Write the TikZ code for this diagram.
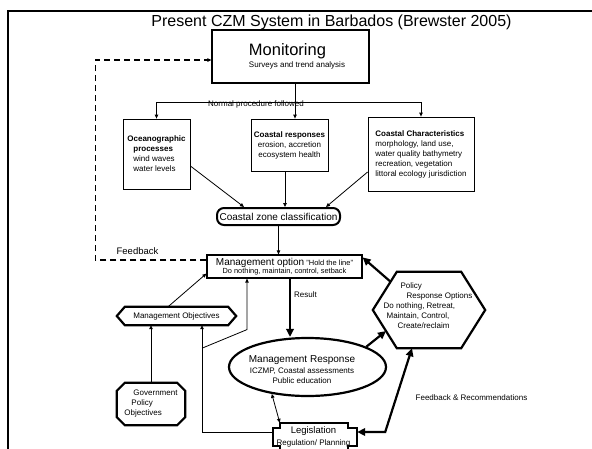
\documentclass[tikz,border=0pt]{standalone}
\usepackage{fontspec}
\setmainfont{Liberation Sans}
\usetikzlibrary{positioning,arrows.meta,calc,shapes.geometric}

\begin{document}
\begin{tikzpicture}[
    x=1pt, y=-1pt,
    >={Triangle[length=4pt,width=3.5pt]},
    every node/.style={inner sep=0pt, font=\fontsize{8}{10}\selectfont},
    infobox/.style={
      rectangle, draw, line width=0.8pt,
      align=left
    },
    heavy/.style={draw, line width=2.2pt},
    link/.style={line width=0.8pt, ->},
    bigarrow/.style={line width=2.2pt, -{Triangle[length=8pt,width=7.5pt]}},
    twoway/.style={line width=2.2pt,
      {Triangle[length=8pt,width=7.5pt]}-{Triangle[length=8pt,width=7.5pt]}},
    feedback/.style={line width=1.4pt, dash pattern=on 6pt off 4pt, ->},
  ]

  \useasboundingbox (0,0) rectangle (592,448);

  % Frame and title
  \draw[line width=2.5pt] (8,460) -- (8,11) -- (600,11);
  \node[font=\fontsize{16}{18}\selectfont, anchor=base] (title) at (331.5,26)
    {Present CZM System in Barbados (Brewster 2005)};

  % Nodes
  \node[infobox, line width=1.2pt, minimum width=157pt, minimum height=53pt]
    (monitor) at (290.5,56.5)
    {\hspace*{13pt}{\fontsize{16.5}{18}\selectfont Monitoring}\\[2pt]
     \hspace*{13pt}Surveys and trend analysis};

  \node[infobox, minimum width=67pt, minimum height=70pt] (ocean) at (156.5,154)
    {\textbf{Oceanographic}\\\hspace*{6pt}\textbf{processes}\\
     \hspace*{6pt}wind waves\\\hspace*{6pt}water levels};
  \node[infobox, align=center, minimum width=77pt, minimum height=52pt]
    (resp) at (289.5,145)
    {\textbf{Coastal responses}\\erosion, accretion\\ecosystem health};
  \node[infobox, minimum width=106pt, minimum height=74pt] (char) at (421,154)
    {\textbf{Coastal Characteristics}\\morphology, land use,\\
     water quality bathymetry\\recreation, vegetation\\
     littoral ecology jurisdiction};
  \node (normal) at (256,104.5) {Normal procedure followed};

  \node[heavy, line width=2pt, rounded corners=7pt, minimum width=123pt,
        minimum height=17pt, font=\fontsize{10}{12}\selectfont]
    (czc) at (278.5,216.5) {Coastal zone classification};

  \node[infobox, line width=1.2pt, align=center, minimum width=155pt,
        minimum height=23pt, font=\fontsize{7.4}{8}\selectfont]
    (mgmtopt) at (284.5,266.5)
    {{\fontsize{10}{10}\selectfont Management option}
     {\fontsize{7.5}{8}\selectfont "Hold the line"}\\
     Do nothing, maintain, control, setback};
  \node[font=\fontsize{9.5}{11}\selectfont] (feedbacktext) at (137.5,251) {Feedback};

  \node[minimum width=119pt, minimum height=18pt] (mobj) at (176.5,316)
    {Management Objectives};
  \draw[heavy] (mobj.west) -- ([xshift=8pt]mobj.north west)
    -- ([xshift=-8pt]mobj.north east) -- (mobj.east)
    -- ([xshift=-8pt]mobj.south east) -- ([xshift=8pt]mobj.south west) -- cycle;

  \node[align=left, minimum width=68pt, minimum height=42pt] (gov) at (151,404)
    {\hspace*{9pt}Government\\\hspace*{7pt}Policy\\Objectives};
  \draw[heavy] ([xshift=8pt]gov.north west) -- ([xshift=-8pt]gov.north east)
    -- ([yshift=-8pt]gov.north east) -- ([yshift=8pt]gov.south east)
    -- ([xshift=-8pt]gov.south east) -- ([xshift=8pt]gov.south west)
    -- ([yshift=8pt]gov.south west) -- ([yshift=-8pt]gov.north west) -- cycle;

  \node[ellipse, heavy, minimum width=157pt, minimum height=58pt]
    (mresp) at (307.5,367) {};
  \node[align=center] (mresptext) at (302,369.5)
    {{\fontsize{10}{10}\selectfont Management Response}\\[1.5pt]
     ICZMP, Coastal assessments\\Public education};

  \node[minimum width=112pt, minimum height=76pt] (policy) at (429,310) {};
  \draw[heavy] (policy.west) coordinate (policy-l)
    -- ([xshift=24pt]policy.north west) coordinate (policy-tl)
    -- ([xshift=-24pt]policy.north east) -- (policy.east)
    -- ([xshift=-24pt]policy.south east)
    -- ([xshift=24pt]policy.south west) coordinate (policy-bl) -- cycle;
  \node[align=left] (policytext) at (428,305.5)
    {\hspace*{17pt}Policy\\\hspace*{23pt}Response Options\\
     Do nothing, Retreat,\\\hspace*{3pt}Maintain, Control,\\
     \hspace*{14pt}Create/reclaim};

  \node[minimum width=68pt, minimum height=29pt] (legis) at (314,437.5) {};
  \draw[heavy] (legis.north west) -- (legis.north east) -- ++(0,5) -- ++(9,0)
    -- ++(0,18) -- ++(-9,0) -- (legis.south east) -- (legis.south west)
    -- ++(0,-6) -- ++(-7,0) -- ++(0,-18) -- ++(7,0) -- cycle;
  \node[align=center] (legistext) at (313.5,437)
    {{\fontsize{9.5}{10}\selectfont Legislation}\\[2.5pt]Regulation/ Planning};

  \node (recommend) at (471.5,398) {Feedback \& Recommendations};

  % Connectors
  \draw[line width=0.8pt] ([xshift=4.5pt]monitor.south) -- ++(0,19) coordinate (fork);
  \draw[link] (fork) -| (ocean.north);
  \draw[link] (fork) -| (char.north);
  \draw[link] (fork) -- (fork |- resp.north);

  \draw[link] ([yshift=-12pt]ocean.east) -- ([xshift=-34.5pt]czc.north);
  \draw[link] ([xshift=-4.5pt]resp.south) -- ([xshift=-4.5pt]resp.south |- czc.north);
  \draw[link] ([yshift=-18pt]char.west) -- ([xshift=47.5pt]czc.north);
  \draw[link] (czc) -- (czc |- mgmtopt.north);

  % Feedback loop
  \draw[feedback] ([yshift=6.5pt]mgmtopt.west) -- ++(-111,0)
    |- ([yshift=-3.5pt]monitor.west);

  % Result
  \draw[bigarrow] ([xshift=5.5pt]mgmtopt.south)
    -- ([xshift=5.5pt]mgmtopt.south |- mresp.north)
    node[pos=0.28, right=3pt] (result) {Result};

  % Objectives
  \draw[link] ([xshift=-8.5pt]mobj.north) -- ([yshift=5pt]mgmtopt.south west);
  \draw[link] (gov) -- (gov |- mobj.south);
  \draw[link] ([xshift=-7pt,yshift=5.5pt]legis.west) -| ([xshift=25.5pt]mobj.south);
  \draw[link] ([xshift=25.5pt,yshift=-23pt]mobj.south)
    -- ([xshift=-37.5pt,yshift=-51pt]mgmtopt.south) -- ([xshift=-37.5pt]mgmtopt.south);

  % Policy links
  \draw[bigarrow] ($(policy-l)!0.74!(policy-tl)$) -- ([yshift=-3pt]mgmtopt.north east);
  \draw[bigarrow] (mresp.19) -- ($(policy-l)!0.55!(policy-bl)$);
  \draw[twoway] ([xshift=-17pt]policy.south)
    -- ([xshift=37pt,yshift=5.5pt]legis.east) -- ([xshift=9pt,yshift=5.5pt]legis.east);
  \draw[link, <->] (mresp.217) -- (legis.north west);

\end{tikzpicture}
\end{document}
